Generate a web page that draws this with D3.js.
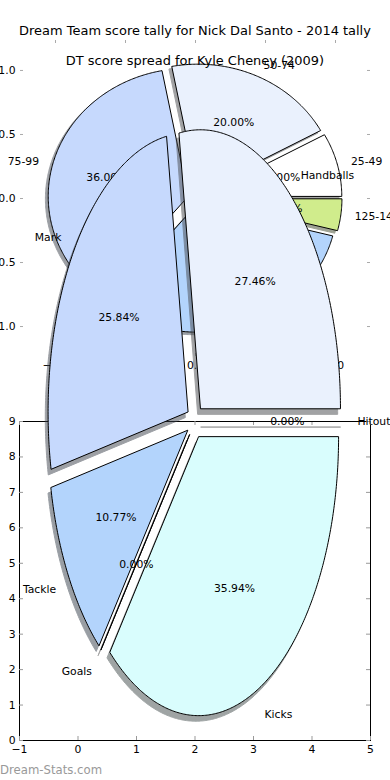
<!DOCTYPE html>
<html>
<head>
<meta charset="utf-8">
<script src="https://cdn.jsdelivr.net/npm/d3@7"></script>
<style>
  body { margin: 0; background: #fff; }
  text { font-family: "DejaVu Sans", sans-serif; }
</style>
</head>
<body>
<div id="chart"></div>
<script>
const width = 390,
    height = 780;

// Nick Dal Santo 2014 tally, counter-clockwise from 3 o'clock
const tallyLabels = ["Hitout", "Handballs", "Mark", "Tackle", "Goals", "Kicks"];
const tallyValues = [0, 27.46, 25.84, 10.77, 0, 35.94];
const tallyColors = ["#ffffff", "#eaf1fd", "#c6d9fd", "#b3d4fc", "#ffffff", "#d9fdfd"];

// Kyle Cheney 2009 score spread (games per bracket)
const spreadLabels = ["25-49", "50-74", "75-99", "100-124", "125-149"];
const spreadValues = [2, 5, 9, 8, 1];
const spreadColors = ["#ffffff", "#eaf1fd", "#c6d9fd", "#b3d4fc", "#d0ec8c"];

// ticks
const pieTicks = [-1, -0.5, 0, 0.5, 1];
const boxXTicks = [-1, 0, 1, 2, 3, 4, 5];
const boxYTicks = [0, 1, 2, 3, 4, 5, 6, 7, 8, 9];

const titleTally = "Dream Team score tally for Nick Dal Santo - 2014 tally";
const titleSpread = "DT score spread for Kyle Cheney (2009)";

const svg = d3.select("#chart")
    .append("svg")
    .attr("width", width)
    .attr("height", height);

// scales
const xPie = d3.scaleLinear().domain([-1.25, 1.25]).range([20, 370]);
const ySpread = d3.scaleLinear().domain([-1.234, 1.234]).range([356, 40]);
const yTally = d3.scaleLinear().domain([-1, 1]).range([700.5, 142.5]);
const xBox = d3.scaleLinear().domain([-1, 5]).range([19, 370]);
const yBox = d3.scaleLinear().domain([0, 9]).range([740, 421]);

const fontSize = 10.8;

function styleAxis(g, color) {
    g.select(".domain").remove();
    g.selectAll(".tick line").attr("stroke", color);
    g.selectAll(".tick text")
        .attr("fill", "#000")
        .style("font-size", fontSize + "px")
        .style("font-family", "DejaVu Sans");
}

function wedgePath(a, off, sx, sy, dx, dy) {
    const n = Math.max(1, Math.ceil(Math.abs(a.endAngle - a.startAngle) / 0.01));
    const pts = [[off[0], off[1]]];
    for (let i = 0; i <= n; i++) {
        const t = a.startAngle + (a.endAngle - a.startAngle) * i / n;
        pts.push([off[0] + Math.sin(t), off[1] + Math.cos(t)]);
    }
    return d3.line().x(p => sx(p[0] + dx)).y(p => sy(p[1] + dy))(pts) + "Z";
}

// matplotlib-like pie: exploded, shadowed, labels at 1.1, percents at 0.6
function drawPie(g, labels, values, colors, sx, sy, explode) {
    const total = d3.sum(values);
    const arcs = d3.pie().sort(null)
        .startAngle(Math.PI / 2)
        .endAngle(Math.PI / 2 - 2 * Math.PI)(values);
    arcs.forEach(a => {
        const mid = (a.startAngle + a.endAngle) / 2;
        a.mid = mid;
        a.off = [explode * Math.sin(mid), explode * Math.cos(mid)];
    });

    g.append("g").selectAll("path")
        .data(arcs)
        .enter()
        .append("path")
        .attr("d", a => wedgePath(a, a.off, sx, sy, -0.02, -0.02))
        .each(function (a) {
            const c = d3.rgb(colors[a.index]);
            const s = d3.rgb(c.r * 0.3, c.g * 0.3, c.b * 0.3).toString();
            d3.select(this).attr("fill", s).attr("stroke", s);
        })
        .attr("opacity", 0.5);

    g.append("g").selectAll("path")
        .data(arcs)
        .enter()
        .append("path")
        .attr("d", a => wedgePath(a, a.off, sx, sy, 0, 0))
        .attr("fill", a => colors[a.index])
        .attr("stroke", "#000")
        .attr("stroke-width", 1)
        .attr("stroke-linejoin", "round");

    const txt = g.append("g").style("font-size", fontSize + "px");
    txt.selectAll("text.lab")
        .data(arcs)
        .enter()
        .append("text")
        .attr("class", "lab")
        .attr("x", a => sx(a.off[0] + 1.1 * Math.sin(a.mid)))
        .attr("y", a => sy(a.off[1] + 1.1 * Math.cos(a.mid)))
        .attr("dy", "0.35em")
        .attr("text-anchor", a => (a.off[0] + 1.1 * Math.sin(a.mid)) > 0 ? "start" : "end")
        .text(a => labels[a.index]);
    txt.selectAll("text.pct")
        .data(arcs)
        .enter()
        .append("text")
        .attr("class", "pct")
        .attr("x", a => sx(a.off[0] + 0.6 * Math.sin(a.mid)))
        .attr("y", a => sy(a.off[1] + 0.6 * Math.cos(a.mid)))
        .attr("dy", "0.35em")
        .attr("text-anchor", "middle")
        .text(a => d3.format(".2f")(a.value / total * 100) + "%");
}

// ---- spread axes (Kyle Cheney) ----
const gB = svg.append("g");
gB.append("g").attr("transform", "translate(0,40)")
    .call(d3.axisTop(xPie).tickValues(pieTicks).tickSizeInner(-3).tickSizeOuter(0).tickFormat(""))
    .call(g => styleAxis(g, "#aaa"));
gB.append("g").attr("transform", "translate(0,356)")
    .call(d3.axisBottom(xPie).tickValues(pieTicks).tickSizeInner(-3).tickSizeOuter(0)
        .tickPadding(5.3).tickFormat(d3.format(".1f")))
    .call(g => styleAxis(g, "#aaa"));
gB.append("g").attr("transform", "translate(20,0)")
    .call(d3.axisLeft(ySpread).tickValues(pieTicks).tickSizeInner(-3).tickSizeOuter(0)
        .tickPadding(4.5).tickFormat(d3.format(".1f")))
    .call(g => styleAxis(g, "#aaa"));
gB.append("g").attr("transform", "translate(370,0)")
    .call(d3.axisRight(ySpread).tickValues(pieTicks).tickSizeInner(-3).tickSizeOuter(0).tickFormat(""))
    .call(g => styleAxis(g, "#aaa"));

drawPie(gB, spreadLabels, spreadValues, spreadColors, xPie, ySpread, 0.05);

gB.append("text")
    .attr("x", 195)
    .attr("y", 65)
    .attr("text-anchor", "middle")
    .style("font-size", "12.96px")
    .text(titleSpread);

// ---- empty box axes ----
const gC = svg.append("g");
gC.append("rect")
    .attr("x", xBox(-1) + 0.5)
    .attr("y", yBox(9) + 0.5)
    .attr("width", xBox(5) - xBox(-1))
    .attr("height", yBox(0) - yBox(9))
    .attr("fill", "none")
    .attr("stroke", "#000")
    .attr("stroke-width", 1);
gC.append("g").attr("transform", "translate(0,740)")
    .call(d3.axisBottom(xBox).tickValues(boxXTicks).tickSizeInner(-4).tickSizeOuter(0)
        .tickPadding(5).tickFormat(d3.format("d")))
    .call(g => styleAxis(g, "#999"));
gC.append("g").attr("transform", "translate(0,421)")
    .call(d3.axisTop(xBox).tickValues(boxXTicks).tickSizeInner(-4).tickSizeOuter(0).tickFormat(""))
    .call(g => styleAxis(g, "#999"));
gC.append("g").attr("transform", "translate(19,0)")
    .call(d3.axisLeft(yBox).tickValues(boxYTicks).tickSizeInner(-4).tickSizeOuter(0)
        .tickPadding(3.5).tickFormat(d3.format("d")))
    .call(g => styleAxis(g, "#999"));
gC.append("g").attr("transform", "translate(370,0)")
    .call(d3.axisRight(yBox).tickValues(boxYTicks).tickSizeInner(-4).tickSizeOuter(0).tickFormat(""))
    .call(g => styleAxis(g, "#999"));

// ---- tally axes (Nick Dal Santo) ----
const gA = svg.append("g");
gA.append("text")
    .attr("x", 195)
    .attr("y", 34.5)
    .attr("text-anchor", "middle")
    .style("font-size", "12.96px")
    .text(titleTally);

drawPie(gA, tallyLabels, tallyValues, tallyColors, xPie, yTally, 0.06);

// watermark
svg.append("text")
    .attr("x", 0)
    .attr("y", 774)
    .attr("fill", "#999")
    .style("font-size", "11.7px")
    .text("Dream-Stats.com");
</script>
</body>
</html>
